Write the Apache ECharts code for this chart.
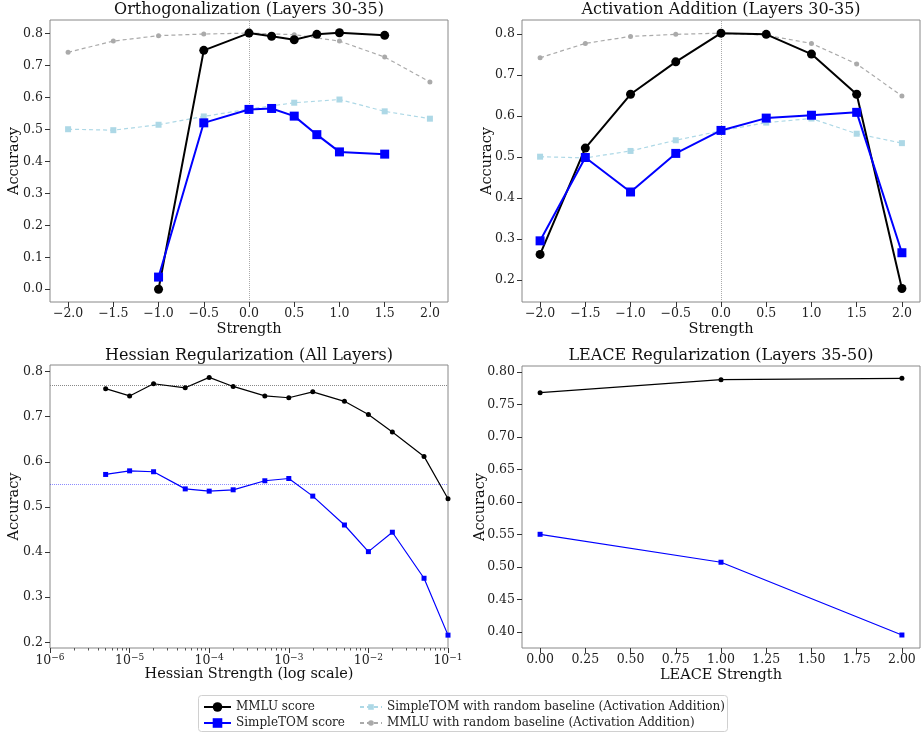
<!DOCTYPE html>
<html>
<head>
<meta charset="utf-8">
<script src="https://cdn.jsdelivr.net/npm/echarts@6/dist/echarts.min.js"></script>
<style>
  html, body { margin: 0; padding: 0; background: #fff; }
  #chart { width: 921px; height: 732px; }
</style>
</head>
<body>
<div id="chart"></div>
<script>
// data
const strengthX = [-2, -1.5, -1, -0.5, 0, 0.5, 1, 1.5, 2]
const orthoX = [-1, -0.5, 0, 0.25, 0.5, 0.75, 1, 1.5]
const orthoMmlu = [0.0, 0.748, 0.802, 0.792, 0.781, 0.798, 0.803, 0.795]
const orthoTom = [0.038, 0.521, 0.563, 0.566, 0.542, 0.484, 0.430, 0.423]
const baseTom = [0.501, 0.498, 0.515, 0.541, 0.564, 0.584, 0.594, 0.557, 0.534]
const baseMmlu = [0.742, 0.777, 0.794, 0.799, 0.802, 0.797, 0.777, 0.727, 0.649]
const addMmlu = [0.263, 0.522, 0.653, 0.732, 0.802, 0.799, 0.751, 0.653, 0.180]
const addTom = [0.296, 0.499, 0.415, 0.509, 0.565, 0.595, 0.602, 0.609, 0.267]
const hessX = [5e-6, 1e-5, 2e-5, 5e-5, 1e-4, 2e-4, 5e-4, 1e-3, 2e-3, 5e-3, 1e-2, 2e-2, 5e-2, 1e-1]
const hessMmlu = [0.762, 0.746, 0.773, 0.764, 0.787, 0.767, 0.746, 0.742, 0.755, 0.734, 0.705, 0.666, 0.612, 0.518]
const hessTom = [0.572, 0.580, 0.578, 0.540, 0.535, 0.538, 0.558, 0.563, 0.524, 0.460, 0.401, 0.444, 0.342, 0.216]
const hessMmluRef = 0.768
const hessTomRef = 0.550
const leaceX = [0, 1, 2]
const leaceMmlu = [0.768, 0.788, 0.790]
const leaceTom = [0.550, 0.507, 0.395]

// tick values
const strengthTicks = [-2, -1.5, -1, -0.5, 0, 0.5, 1, 1.5, 2]
const orthoYTicks = [0, 0.1, 0.2, 0.3, 0.4, 0.5, 0.6, 0.7, 0.8]
const addYTicks = [0.2, 0.3, 0.4, 0.5, 0.6, 0.7, 0.8]
const hessYTicks = [0.2, 0.3, 0.4, 0.5, 0.6, 0.7, 0.8]
const logDecades = [1e-6, 1e-5, 1e-4, 1e-3, 1e-2]
const logMinorSteps = [2, 3, 4, 5, 6, 7, 8, 9]
const leaceXTicks = [0, 0.25, 0.5, 0.75, 1, 1.25, 1.5, 1.75, 2]
const leaceYTicks = [0.40, 0.45, 0.50, 0.55, 0.60, 0.65, 0.70, 0.75, 0.80]

const titles = ['Orthogonalization (Layers 30-35)', 'Activation Addition (Layers 30-35)',
    'Hessian Regularization (All Layers)', 'LEACE Regularization (Layers 35-50)']

const NAME_MMLU = 'MMLU score'
const NAME_TOM = 'SimpleTOM score'
const NAME_BTOM = 'SimpleTOM with random baseline (Activation Addition)'
const NAME_BMMLU = 'MMLU with random baseline (Activation Addition)'

const FONT = 'DejaVu Serif'
const pair = (xs, ys) => xs.map((x, i) => [x, ys[i]])
const minus = (s) => s.replace('-', '\u2212')
const logMinorTicks = logDecades.flatMap(d => logMinorSteps.map(m => m * d))

let chart = echarts.init(document.getElementById('chart'), null, { renderer: 'canvas' })

let grids = [
    { left: 50, top: 20, width: 398, height: 282 },
    { left: 522, top: 20, width: 398, height: 282 },
    { left: 50, top: 365, width: 398, height: 283 },
    { left: 522, top: 366, width: 398, height: 282 },
].map(g => ({ ...g, show: true, borderColor: '#888', borderWidth: 1, backgroundColor: '#fff' }))

let tickLabel = (decimals, values, margin) => ({
    color: '#222', fontFamily: FONT, fontSize: 12.5, margin,
    customValues: values,
    formatter: (v) => minus(Number(v).toFixed(decimals))
})
let axisBase = {
    axisLine: { show: false, onZero: false },
    axisTick: { show: true, length: 5, lineStyle: { color: '#333' } },
    splitLine: { show: false },
    nameLocation: 'middle',
    nameMoveOverlap: false,
    nameTextStyle: { fontFamily: FONT, fontSize: 14.5, color: '#111' },
}

let xAxes = [
    { ...axisBase, type: 'value', gridIndex: 0, min: -2.2, max: 2.2, name: 'Strength', nameGap: 20,
        axisTick: { ...axisBase.axisTick, customValues: strengthTicks }, axisLabel: tickLabel(1, strengthTicks, 5) },
    { ...axisBase, type: 'value', gridIndex: 1, min: -2.2, max: 2.2, name: 'Strength', nameGap: 20,
        axisTick: { ...axisBase.axisTick, customValues: strengthTicks }, axisLabel: tickLabel(1, strengthTicks, 5) },
    { ...axisBase, type: 'log', logBase: 10, gridIndex: 2, min: 1e-6, max: 1e-1, name: 'Hessian Strength (log scale)', nameGap: 19,
        axisLabel: {
            color: '#222', fontFamily: FONT, fontSize: 12.5, margin: 5,
            formatter: (v) => '10{sup|\u2212' + Math.abs(Math.round(Math.log10(v))) + '}',
            rich: { sup: { fontFamily: FONT, fontSize: 9, verticalAlign: 'top', padding: [0, 0, 6, 0], color: '#222' } }
        } },
    { ...axisBase, type: 'value', gridIndex: 3, min: -0.1, max: 2.1, name: 'LEACE Strength', nameGap: 20,
        axisTick: { ...axisBase.axisTick, customValues: leaceXTicks }, axisLabel: tickLabel(2, leaceXTicks, 5) },
    // minor ticks of the log axis
    { type: 'log', logBase: 10, gridIndex: 2, min: 1e-6, max: 1e-1, position: 'bottom',
        axisLine: { show: false, onZero: false }, splitLine: { show: false }, axisLabel: { show: false },
        axisTick: { show: true, length: 2.5, lineStyle: { color: '#555' }, customValues: logMinorTicks } },
]

let yAxes = [
    { ...axisBase, type: 'value', gridIndex: 0, min: -0.04, max: 0.843, name: 'Accuracy', nameGap: 28,
        axisTick: { ...axisBase.axisTick, customValues: orthoYTicks }, axisLabel: tickLabel(1, orthoYTicks, 7) },
    { ...axisBase, type: 'value', gridIndex: 1, min: 0.147, max: 0.834, name: 'Accuracy', nameGap: 27,
        axisTick: { ...axisBase.axisTick, customValues: addYTicks }, axisLabel: tickLabel(1, addYTicks, 7) },
    { ...axisBase, type: 'value', gridIndex: 2, min: 0.1875, max: 0.8145, name: 'Accuracy', nameGap: 28,
        axisTick: { ...axisBase.axisTick, customValues: hessYTicks }, axisLabel: tickLabel(1, hessYTicks, 7) },
    { ...axisBase, type: 'value', gridIndex: 3, min: 0.375, max: 0.809, name: 'Accuracy', nameGap: 34,
        axisTick: { ...axisBase.axisTick, customValues: leaceYTicks }, axisLabel: tickLabel(2, leaceYTicks, 7) },
]

// reference lines live on their own empty series, kept underneath the data
let refLine = (idx, mark, color) => ({
    type: 'line', xAxisIndex: idx, yAxisIndex: idx, data: [], z: 1,
    markLine: {
        silent: true, symbol: 'none', label: { show: false }, z: 1,
        lineStyle: { type: 'dotted', color, width: 1 },
        data: [mark]
    }
})

let bigMain = (name, idx, xs, ys) => ({
    name, type: 'line', xAxisIndex: idx, yAxisIndex: idx, data: pair(xs, ys),
    symbol: name === NAME_MMLU ? 'circle' : 'rect', symbolSize: 9, showAllSymbol: true,
    lineStyle: { width: 2, color: name === NAME_MMLU ? '#000' : '#0000ff' },
    itemStyle: { color: name === NAME_MMLU ? '#000' : '#0000ff' },
    z: 4
})
let baseline = (name, idx) => ({
    name, type: 'line', xAxisIndex: idx, yAxisIndex: idx,
    data: pair(strengthX, name === NAME_BTOM ? baseTom : baseMmlu),
    symbol: name === NAME_BTOM ? 'rect' : 'circle', symbolSize: name === NAME_BTOM ? 6 : 5,
    lineStyle: { width: 1.2, type: [4, 3], color: name === NAME_BTOM ? '#add8e6' : '#aaaaaa' },
    itemStyle: { color: name === NAME_BTOM ? '#add8e6' : '#aaaaaa' },
    z: 2
})
let smallMain = (name, idx, xs, ys) => ({
    name, type: 'line', xAxisIndex: idx, yAxisIndex: idx, data: pair(xs, ys),
    symbol: name === NAME_MMLU ? 'circle' : 'rect', symbolSize: 5, showAllSymbol: true,
    lineStyle: { width: 1.2, color: name === NAME_MMLU ? '#000' : '#0000ff' },
    itemStyle: { color: name === NAME_MMLU ? '#000' : '#0000ff' },
    z: 4
})

let series = [
    refLine(0, { xAxis: 0 }, '#aaa'),
    baseline(NAME_BTOM, 0),
    baseline(NAME_BMMLU, 0),
    bigMain(NAME_MMLU, 0, orthoX, orthoMmlu),
    bigMain(NAME_TOM, 0, orthoX, orthoTom),
    refLine(1, { xAxis: 0 }, '#aaa'),
    baseline(NAME_BTOM, 1),
    baseline(NAME_BMMLU, 1),
    bigMain(NAME_MMLU, 1, strengthX, addMmlu),
    bigMain(NAME_TOM, 1, strengthX, addTom),
    refLine(2, { yAxis: hessMmluRef }, '#888'),
    refLine(2, { yAxis: hessTomRef }, 'rgba(0,0,255,0.45)'),
    smallMain(NAME_MMLU, 2, hessX, hessMmlu),
    smallMain(NAME_TOM, 2, hessX, hessTom),
    smallMain(NAME_MMLU, 3, leaceX, leaceMmlu),
    smallMain(NAME_TOM, 3, leaceX, leaceTom),
]

let gridCenters = [249, 721, 249, 721]
let titleTops = [2, 2, 348, 348]

let legendText = { fontFamily: FONT, fontSize: 12, color: '#222' }

let option = {
    animation: false,
    backgroundColor: '#fff',
    title: titles.map((t, i) => ({
        text: t, left: gridCenters[i], top: titleTops[i], textAlign: 'center', padding: 0,
        textStyle: { fontFamily: FONT, fontSize: 16, fontWeight: 'normal', color: '#111' }
    })),
    grid: grids,
    xAxis: xAxes,
    yAxis: yAxes,
    legend: [
        { orient: 'vertical', left: 203, top: 701, itemWidth: 27, itemHeight: 12, itemGap: 4,
            padding: 0, textStyle: legendText, selectedMode: false, data: [NAME_MMLU, NAME_TOM] },
        { orient: 'vertical', left: 359, top: 701, itemWidth: 22, itemHeight: 7, itemGap: 4,
            padding: 0, textStyle: { ...legendText, lineHeight: 12 }, selectedMode: false, data: [NAME_BTOM, NAME_BMMLU] },
    ],
    graphic: [{
        type: 'rect', left: 198, top: 695, silent: true, z: -1,
        shape: { width: 529, height: 36, r: 3 },
        style: { fill: '#fff', stroke: '#d0d0d0', lineWidth: 1 }
    }],
    series
}

chart.setOption(option)
</script>
</body>
</html>
